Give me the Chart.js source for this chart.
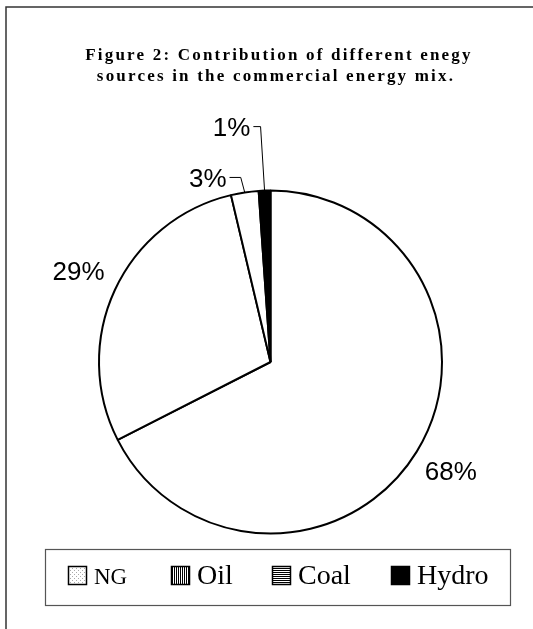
<!DOCTYPE html>
<html>
<head>
<meta charset="utf-8">
<script src="https://cdn.jsdelivr.net/npm/chart.js@4.4.1/dist/chart.umd.min.js"></script>
<style>
  html, body { margin: 0; padding: 0; background: #fff; }
  #wrap { position: relative; width: 533px; height: 629px; }
</style>
</head>
<body>
<div id="wrap"><canvas id="chart" width="533" height="629"></canvas></div>
<script>
const titleLines = ['Figure 2: Contribution of different enegy', 'sources in the commercial energy mix.']
const labels = ['NG', 'Oil', 'Coal', 'Hydro']
const shares = [67.5, 28.8, 2.6, 1.1]
const sliceColors = ['#ffffff', '#ffffff', '#ffffff', '#000000']

// legend swatches are hatched like the print version
function makePattern(kind) {
	const c = document.createElement('canvas')
	c.width = 4; c.height = 4
	const g = c.getContext('2d')
	g.fillStyle = '#fff'
	g.fillRect(0, 0, 4, 4)
	g.fillStyle = '#000'
	if (kind === 'dots') {
		g.fillStyle = '#aaa'
		g.fillRect(0, 0, 1, 1)
		g.fillRect(2, 2, 1, 1)
	} else if (kind === 'vert') {
		g.fillRect(0, 0, 1, 4)
		g.fillRect(2, 0, 1, 4)
	} else if (kind === 'horiz') {
		g.fillRect(0, 0, 4, 1)
		g.fillRect(0, 2, 4, 1)
	} else {
		g.fillRect(0, 0, 4, 4)
	}
	return g.createPattern(c, 'repeat')
}

const frame = {
	id: 'frame',
	beforeDraw(chart) {
		const ctx = chart.ctx
		ctx.save()
		ctx.strokeStyle = '#333'
		ctx.lineWidth = 1.5
		ctx.beginPath()
		ctx.moveTo(6, 629)
		ctx.lineTo(6, 7)
		ctx.lineTo(533, 7)
		ctx.stroke()
		// title, letter spaced like the scanned original
		ctx.fillStyle = '#000'
		ctx.font = 'bold 17px "Liberation Serif", "Times New Roman", serif'
		ctx.textAlign = 'center'
		ctx.textBaseline = 'alphabetic'
		ctx.letterSpacing = '2.2px'
		ctx.fillText(titleLines[0], 279, 60)
		ctx.fillText(titleLines[1], 276, 81)
		ctx.restore()
	}
}

const sliceLabels = {
	id: 'sliceLabels',
	afterDatasetsDraw(chart, args, opts) {
		const ctx = chart.ctx
		const meta = chart.getDatasetMeta(0)
		ctx.save()
		ctx.font = '26px "Liberation Sans", Arial, sans-serif'
		ctx.fillStyle = '#000'
		ctx.strokeStyle = '#000'
		ctx.lineWidth = 1
		ctx.textAlign = 'center'
		ctx.textBaseline = 'middle'
		meta.data.forEach((arc, i) => {
			const p = arc.getProps(['x', 'y', 'startAngle', 'endAngle', 'outerRadius'], true)
			const mid = (p.startAngle + p.endAngle) / 2
			const text = Math.round(shares[i]) + '%'
			const ex = p.x + Math.cos(mid) * p.outerRadius
			const ey = p.y + Math.sin(mid) * p.outerRadius
			const off = opts.offsets[i]
			if (!off) {
				const d = p.outerRadius + 40
				ctx.fillText(text, p.x + Math.cos(mid) * d, p.y + Math.sin(mid) * d)
				return
			}
			const lx = ex + off[0]
			const ly = ey + off[1]
			ctx.fillText(text, lx, ly)
			const w = ctx.measureText(text).width
			ctx.beginPath()
			ctx.moveTo(lx + w / 2 + 3, ly - 2)
			ctx.lineTo(ex - 4, ly - 2)
			ctx.lineTo(ex, ey)
			ctx.stroke()
		})
		ctx.restore()
	}
}

const legendBox = {
	id: 'legendBox',
	afterDraw(chart) {
		const ctx = chart.ctx
		const swatches = [makePattern('dots'), makePattern('vert'), makePattern('horiz'), makePattern('solid')]
		const boxX = [68, 171, 272, 391]
		const fonts = ['23px', '28px', '28px', '28px']
		ctx.save()
		ctx.strokeStyle = '#555'
		ctx.lineWidth = 1.2
		ctx.strokeRect(45.5, 549.5, 465, 56)
		ctx.textBaseline = 'alphabetic'
		ctx.textAlign = 'left'
		labels.forEach((lab, i) => {
			ctx.fillStyle = swatches[i]
			ctx.fillRect(boxX[i], 566, 19, 19)
			ctx.strokeStyle = '#000'
			ctx.lineWidth = 1.5
			ctx.strokeRect(boxX[i] + 0.5, 566.5, 18, 18)
			ctx.fillStyle = '#000'
			ctx.font = fonts[i] + ' "Liberation Serif", "Times New Roman", serif'
			ctx.fillText(lab, boxX[i] + 26, 584)
		})
		ctx.restore()
	}
}

new Chart(document.getElementById('chart'), {
	type: 'pie',
	data: {
		labels: labels,
		datasets: [{
			data: shares,
			backgroundColor: sliceColors,
			borderColor: '#000',
			borderWidth: 2,
			borderAlign: 'center'
		}]
	},
	options: {
		responsive: false,
		animation: false,
		layout: { padding: { left: 98, right: 90, top: 189, bottom: 94 } },
		plugins: {
			legend: { display: false },
			title: { display: false },
			tooltip: { enabled: false },
			sliceLabels: { offsets: [null, null, [-37, -13], [-33, -62]] }
		}
	},
	plugins: [frame, sliceLabels, legendBox]
})
</script>
</body>
</html>
